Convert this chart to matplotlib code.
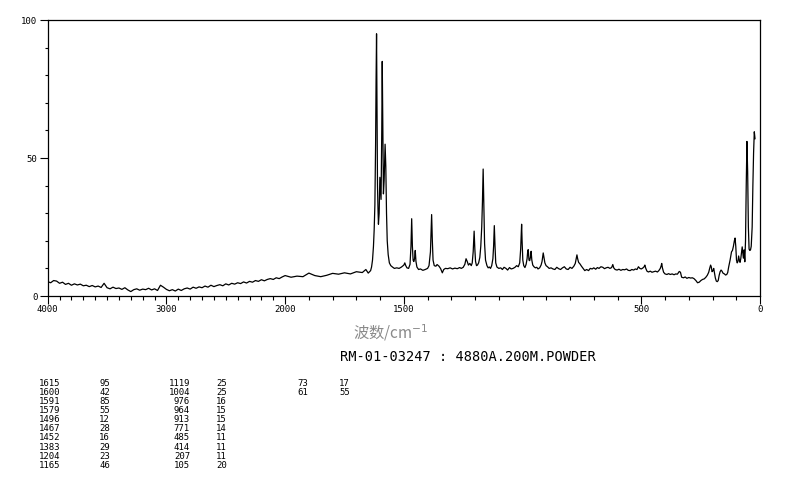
import numpy as np
import matplotlib
matplotlib.use("Agg")
import matplotlib.pyplot as plt
from matplotlib.ticker import FixedLocator, NullFormatter

# ---- spectrum ----
# high-wavenumber baseline, sampled every 25 cm-1 from 4000 down to 2000
hi_wn = np.arange(4000, 1999, -25)
hi_int = [
    5.2, 4.8, 5.6, 5.4, 4.6, 5.0, 4.2, 4.6, 3.9, 4.4,
    4.0, 4.3, 3.7, 3.9, 3.4, 3.8, 3.3, 3.6, 3.1, 4.6,
    3.0, 2.6, 3.2, 2.7, 2.9, 2.4, 3.0, 2.2, 1.6, 2.3,
    2.6, 2.1, 2.5, 2.3, 2.8, 2.2, 2.6, 2.0, 3.9, 3.2,
    2.4, 1.9, 2.3, 1.8, 2.5, 2.0, 2.6, 2.9, 2.5, 3.2,
    2.8, 3.3, 3.0, 3.6, 3.2, 3.9, 3.4, 3.8, 4.1, 3.7,
    4.4, 4.0, 4.6, 4.3, 4.8, 4.5, 5.1, 4.7, 5.3, 5.0,
    5.6, 5.3, 5.9, 5.5, 6.0, 6.3, 6.0, 6.6, 6.3, 6.9,
    7.4,
]

# below 2000 cm-1 (expanded x scale), (wavenumber, intensity)
lo_points = [
    (1975, 6.8), (1950, 7.2), (1925, 7.0), (1900, 8.3), (1875, 7.4), (1850, 7.0),
    (1825, 7.5), (1800, 8.2), (1775, 7.9), (1750, 8.4), (1725, 8.0), (1700, 8.8),
    (1675, 8.5), (1660, 9.6), (1650, 8.3), (1640, 9.2),
    (1636, 10.5), (1632, 13), (1628, 18), (1625, 24), (1622, 33), (1619, 55),
    (1617, 78), (1615, 95), (1613, 70), (1611, 40), (1609, 32), (1607, 26),
    (1604, 30), (1601, 43), (1599, 40), (1596, 35), (1593, 60), (1591, 85),
    (1589, 65), (1586, 37), (1583, 42), (1579, 55), (1576, 47), (1573, 30),
    (1570, 20), (1566, 15), (1561, 12), (1555, 11), (1548, 10.5), (1540, 10),
    (1530, 10.2), (1520, 10.0), (1510, 10.5), (1500, 11.2), (1496, 12), (1492, 11),
    (1487, 10.2), (1480, 10.0), (1474, 11.5), (1470, 18), (1467, 28), (1464, 18),
    (1461, 13), (1458, 12.5), (1455, 13.5), (1452, 16.5), (1449, 12.5), (1445, 10.5),
    (1438, 9.6), (1430, 9.8), (1420, 9.3), (1410, 9.6), (1400, 10.0), (1394, 11.0),
    (1388, 16), (1385, 24), (1383, 29.5), (1380, 20), (1377, 13), (1372, 11),
    (1365, 10.8), (1360, 11.4), (1352, 10.8), (1345, 9.9), (1338, 8.4), (1332, 9.6),
    (1325, 10.0), (1315, 9.9), (1305, 10.2), (1295, 9.8), (1285, 10.1), (1275, 9.9),
    (1265, 10.3), (1258, 10.0), (1250, 10.4), (1243, 11.5), (1238, 13.5), (1233, 12.5),
    (1228, 11.2), (1222, 11.8), (1216, 11.0), (1212, 12.0), (1208, 16), (1206, 20),
    (1204, 23.5), (1201, 17), (1198, 12.5), (1194, 11.0), (1190, 11.2), (1185, 12.0),
    (1180, 14), (1176, 18), (1172, 25), (1169, 34), (1166, 46), (1163, 33),
    (1160, 19), (1156, 13), (1150, 11), (1145, 10.2), (1140, 10.5), (1135, 10.0),
    (1130, 11), (1125, 13.5), (1122, 18), (1119, 25.5), (1116, 18), (1113, 12),
    (1108, 10.5), (1100, 10.0), (1092, 10.2), (1085, 9.6), (1078, 10.4), (1070, 10.0),
    (1063, 9.4), (1055, 10.3), (1048, 9.8), (1040, 10.0), (1032, 10.4), (1025, 11.0),
    (1018, 10.6), (1012, 12.0), (1008, 17), (1006, 22), (1004, 26), (1002, 20),
    (999, 13), (995, 11), (990, 10.3), (985, 11.5), (981, 13.5), (978, 16.5),
    (976, 16.8), (973, 13), (970, 12.8), (967, 14), (964, 16.2), (961, 13),
    (957, 11.2), (952, 10.6), (946, 10.2), (940, 10.4), (935, 9.8), (928, 10.2),
    (922, 11.2), (918, 12.5), (915, 14.5), (913, 15.6), (910, 14), (906, 12),
    (901, 11), (895, 10.6), (888, 10.0), (880, 10.2), (872, 9.8), (864, 9.6),
    (856, 10.4), (848, 9.9), (840, 9.6), (832, 10.2), (824, 10.6), (816, 9.8),
    (808, 9.6), (800, 10.4), (792, 10.0), (784, 10.8), (778, 11.8), (774, 13.5),
    (771, 14.9), (768, 13.5), (764, 12.2), (758, 11.6), (752, 10.8), (745, 10.0),
    (738, 9.2), (730, 9.6), (722, 9.2), (715, 10.0), (707, 9.8), (700, 10.2),
    (692, 9.7), (685, 10.3), (678, 10.0), (670, 10.6), (662, 10.4), (655, 9.9),
    (648, 10.2), (640, 10.4), (632, 10.0), (625, 10.3), (620, 11.4), (616, 10.2),
    (610, 9.6), (602, 9.4), (594, 9.7), (586, 9.3), (578, 9.6), (570, 9.5),
    (562, 9.8), (555, 9.3), (547, 9.2), (540, 9.6), (532, 9.4), (525, 9.8),
    (518, 9.6), (512, 10.6), (506, 10.0), (500, 9.8), (494, 10.1), (488, 10.6),
    (485, 11.2), (481, 10.0), (476, 9.0), (470, 8.7), (462, 9.0), (455, 8.6),
    (448, 8.8), (440, 9.0), (432, 8.7), (426, 9.2), (420, 10.0), (416, 11.0),
    (414, 11.8), (411, 10.2), (406, 8.6), (400, 8.0), (392, 7.8), (385, 8.1),
    (378, 7.8), (370, 8.0), (362, 7.7), (355, 8.0), (348, 7.9), (340, 8.9),
    (335, 8.6), (330, 6.8), (322, 6.6), (315, 6.9), (308, 6.4), (300, 6.7),
    (292, 6.5), (285, 6.6), (278, 6.3), (270, 5.6), (263, 4.8), (256, 5.0),
    (249, 5.6), (242, 6.0), (235, 6.2), (228, 6.8), (222, 7.5), (216, 8.6),
    (212, 10), (208, 11.2), (205, 10.5), (202, 8.8), (198, 9.2), (195, 10.0),
    (192, 8.5), (188, 6.5), (184, 5.4), (180, 5.2), (176, 5.6), (172, 7.5),
    (168, 8.8), (164, 9.4), (160, 9.0), (156, 8.3), (150, 8.0), (145, 7.6),
    (140, 7.8), (136, 8.5), (132, 10.5), (126, 13), (120, 16), (116, 16.5),
    (112, 18), (108, 20), (105, 21), (102, 18), (99, 13), (96, 12),
    (93, 12.5), (90, 14.5), (87, 13), (84, 12.2), (81, 13.5), (78, 15.5),
    (75, 17.8), (72, 15.5), (70, 13.7), (67, 16.7), (64, 12.4), (61, 20),
    (58, 40), (55, 56), (52, 45), (49, 25), (46, 17), (43, 16.5),
    (40, 16.7), (37, 18), (33, 25), (30, 40), (27, 52), (24, 59.5), (21, 57),
]

# peak table printed under the chart
peak_wn = [1615, 1600, 1591, 1579, 1496, 1467, 1452, 1383, 1204, 1165,
           1119, 1004, 976, 964, 913, 771, 485, 414, 207, 105,
           73, 61]
peak_int = [95, 42, 85, 55, 12, 28, 16, 29, 23, 46,
            25, 25, 16, 15, 15, 14, 11, 11, 11, 20,
            17, 55]

x_major = [4000, 3000, 2000, 1500, 500, 0]
y_major = [0, 50, 100]
sample_id = "RM-01-03247 : 4880A.200M.POWDER"
x_label = "波数/cm$^{-1}$"

lo_wn = [p[0] for p in lo_points]
lo_int = [p[1] for p in lo_points]
wn = np.concatenate([hi_wn, lo_wn])
inten = np.concatenate([hi_int, lo_int])


# x axis: 4000-2000 compressed, 2000-0 expanded twice
def fwd(w):
    w = np.asarray(w, dtype=float)
    return np.where(w >= 2000, w + 2000, 2 * w)


def inv(u):
    u = np.asarray(u, dtype=float)
    return np.where(u >= 4000, u - 2000, u / 2)


W, H = 794, 482
fig = plt.figure(figsize=(W / 100, H / 100), dpi=100)
ax = fig.add_axes([47.7 / W, 1 - 296 / H, (760 - 47.7) / W, (296 - 20) / H])

ax.plot(wn, inten, color="black", lw=0.9)
ax.set_xscale("function", functions=(fwd, inv))
ax.set_xlim(4000, 0)
ax.set_ylim(0, 100)

mono = "DejaVu Sans Mono"
ax.xaxis.set_major_locator(FixedLocator(x_major))
ax.xaxis.set_minor_locator(FixedLocator(np.arange(0, 4001, 100)))
ax.xaxis.set_minor_formatter(NullFormatter())
ax.set_xticklabels([str(v) for v in x_major], family=mono, fontsize=6.5)
ax.yaxis.set_major_locator(FixedLocator(y_major))
ax.yaxis.set_minor_locator(FixedLocator(np.arange(0, 101, 10)))
ax.set_yticklabels([str(v) for v in y_major], family=mono, fontsize=6.5)

ax.tick_params(axis="both", which="both", direction="out", width=0.8, colors="black")
ax.tick_params(axis="x", which="major", length=5.5, pad=1)
ax.tick_params(axis="x", which="minor", length=3)
ax.tick_params(axis="y", which="major", length=5.5, pad=2)
ax.tick_params(axis="y", which="minor", length=2.5)
for s in ax.spines.values():
    s.set_linewidth(0.9)

fig.text(391 / W, 1 - 333 / H, x_label, ha="center", va="center",
         fontsize=11, color="#8a8a8a", family=["Noto Sans CJK SC", "DejaVu Sans"])
fig.text(340 / W, 1 - 357 / H, sample_id, ha="left", va="center",
         fontsize=9.8, family=mono)

# peak table: three column pairs of ten rows
col_right = [(60, 110), (190, 227), (308, 350)]
row_y0, row_dy = 383, 9.15
for k, (w, i) in enumerate(zip(peak_wn, peak_int)):
    c, r = divmod(k, 10)
    y = 1 - (row_y0 + r * row_dy) / H
    xw, xi = col_right[c]
    fig.text(xw / W, y, str(w), ha="right", va="center", fontsize=6.5, family=mono)
    fig.text(xi / W, y, str(i), ha="right", va="center", fontsize=6.5, family=mono)

fig.savefig("out.png", dpi=100)
